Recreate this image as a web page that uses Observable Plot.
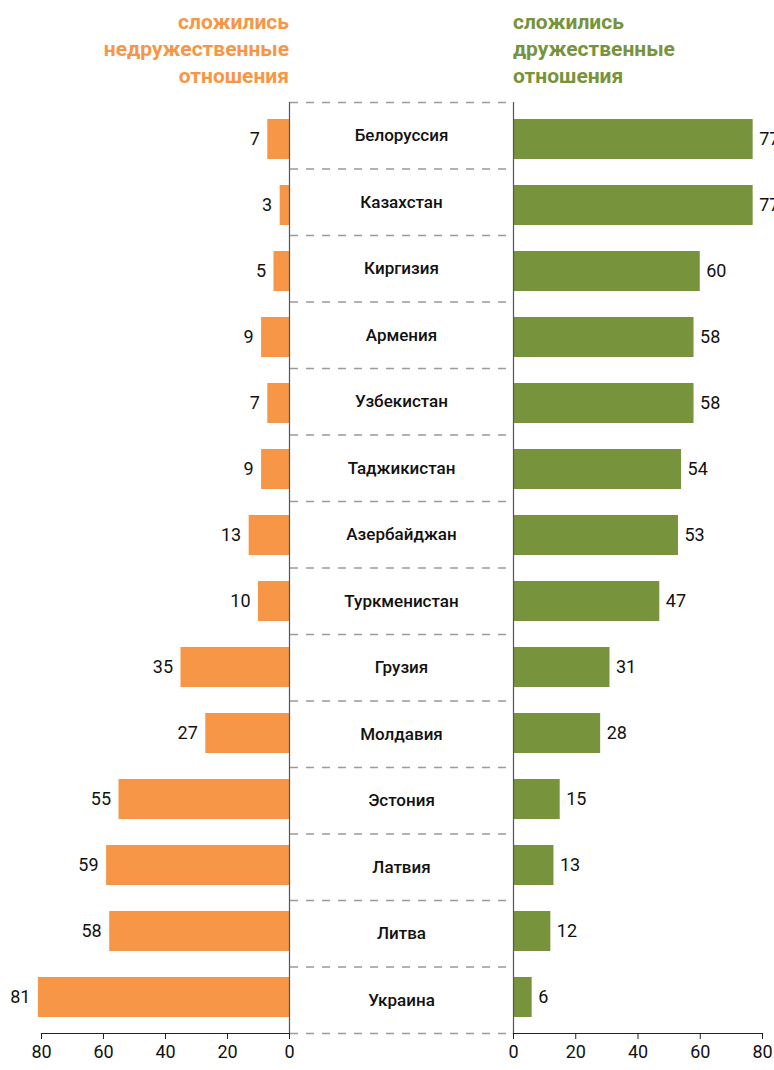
<!DOCTYPE html>
<html>
<head>
<meta charset="utf-8">
<script src="https://cdn.jsdelivr.net/npm/d3@7"></script>
<script src="https://cdn.jsdelivr.net/npm/@observablehq/plot@0.6"></script>
<style>
  html, body { margin: 0; padding: 0; background: #fff; }
  #wrap { position: relative; width: 774px; height: 1070px; overflow: hidden; font-family: Roboto, "Noto Sans", sans-serif; }
  .title { position: absolute; top: 9px; font-weight: 700; font-size: 21px; line-height: 27px; }
  #tl { right: 485px; text-align: right; color: #F79646; }
  #tr { left: 513px; text-align: left; color: #77933C; }
  .panel { position: absolute; top: 0; }
  .panel svg { overflow: visible; }
</style>
</head>
<body>
<div id="wrap">
  <div class="title" id="tl">сложились<br>недружественные<br>отношения</div>
  <div class="title" id="tr">сложились<br>дружественные<br>отношения</div>
  <div class="panel" id="left" style="left:0px"></div>
  <div class="panel" id="mid" style="left:290px"></div>
  <div class="panel" id="right" style="left:289px"></div>
</div>
<script>
const countries = ["Белоруссия","Казахстан","Киргизия","Армения","Узбекистан","Таджикистан","Азербайджан","Туркменистан","Грузия","Молдавия","Эстония","Латвия","Литва","Украина"];
const unfriendly = [7,3,5,9,7,9,13,10,35,27,55,59,58,81];
const friendly = [77,77,60,58,58,54,53,47,31,28,15,13,12,6];
const xTicks = [0,20,40,60,80];

const ORANGE = "#F79646";
const GREEN = "#77933C";

const H = 1070, MT = 102, MB = 37;
const leftData = countries.map((c, i) => ({c, v: unfriendly[i]}));
const rightData = countries.map((c, i) => ({c, v: friendly[i]}));
const rows = countries.map((c, i) => ({c, i}));

const baseStyle = {fontFamily: "Roboto, 'Noto Sans', sans-serif", fontSize: "18px", color: "#111", background: "transparent", overflow: "visible"};
const yBand = {domain: countries, paddingInner: 0.4, paddingOuter: 0.2};

const leftPlot = Plot.plot({
  width: 290, height: H, marginTop: MT, marginBottom: MB, marginLeft: 41, marginRight: 1,
  style: baseStyle,
  x: {domain: [0, 80], reverse: true, label: null},
  y: {...yBand, axis: null, label: null},
  marks: [
    Plot.barX(leftData, {x: "v", y: "c", fill: ORANGE}),
    Plot.text(leftData, {x: "v", y: "c", text: d => String(d.v), textAnchor: "end", dx: -8, fontSize: 18, fill: "#111"}),
    Plot.frame({anchor: "right", stroke: "#555", strokeWidth: 1.2}),
    Plot.frame({anchor: "bottom", stroke: "#222", strokeWidth: 1.2}),
    Plot.axisX({ticks: xTicks, tickSize: 6, tickPadding: 6, tickFormat: d => String(d), fontSize: 18, stroke: "#222", label: null})
  ]
});
document.getElementById("left").appendChild(leftPlot);

const midPlot = Plot.plot({
  width: 222, height: H, marginTop: MT, marginBottom: MB, marginLeft: 0, marginRight: 0,
  style: baseStyle,
  x: {axis: null, domain: [0, 1]},
  y: {domain: [0, countries.length], reverse: true, axis: null},
  marks: [
    Plot.ruleY(d3.range(countries.length + 1), {stroke: "#9a9a9a", strokeWidth: 1.4, strokeDasharray: "8,8"}),
    Plot.text(rows, {y: d => d.i + 0.5, frameAnchor: "middle", text: "c", fontSize: 17, fontWeight: 500, fill: "#111"})
  ]
});
document.getElementById("mid").appendChild(midPlot);

const rightPlot = Plot.plot({
  width: 485, height: H, marginTop: MT, marginBottom: MB, marginLeft: 224, marginRight: 12,
  style: baseStyle,
  x: {domain: [0, 80], label: null},
  y: {...yBand, axis: null, label: null},
  marks: [
    Plot.barX(rightData, {x: "v", y: "c", fill: GREEN}),
    Plot.text(rightData, {x: "v", y: "c", text: d => String(d.v), textAnchor: "start", dx: 6, fontSize: 18, fill: "#111"}),
    Plot.frame({anchor: "left", stroke: "#555", strokeWidth: 1.2}),
    Plot.frame({anchor: "bottom", stroke: "#222", strokeWidth: 1.2}),
    Plot.axisX({ticks: xTicks, tickSize: 6, tickPadding: 6, tickFormat: d => String(d), fontSize: 18, stroke: "#222", label: null})
  ]
});
document.getElementById("right").appendChild(rightPlot);
</script>
</body>
</html>
